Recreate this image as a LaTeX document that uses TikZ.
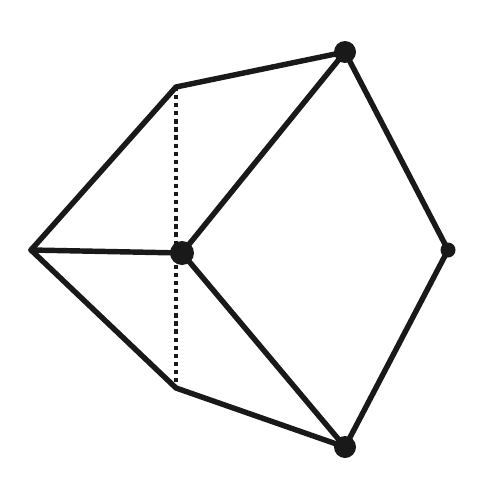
\documentclass[tikz,border=0pt]{standalone}
\begin{document}
\begin{tikzpicture}[x=0.02cm,y=-0.02cm,line join=round,line cap=round]
\useasboundingbox (0,0) rectangle (490,490);
\tikzset{edge/.style={line width=3.1pt,black!90},
         dotline/.style={line width=2.4pt,black!90,line cap=butt,dash pattern=on 2.4pt off 2.2pt}}
% vertices
\coordinate (L) at (31,250);
\coordinate (TL) at (176,87);
\coordinate (BL) at (176,388);
\coordinate (C) at (182,253);
\coordinate (T) at (345,52);
\coordinate (R) at (448,250);
\coordinate (B) at (345,447);
\draw[dotline] (TL)--(BL);
\draw[edge] (T)--(TL)--(L)--(BL)--(B);
\draw[edge] (L)--(C);
\draw[edge] (T)--(C)--(B);
\draw[edge] (T)--(R)--(B);
\fill[black!90] (C) circle (12);
\fill[black!90] (T) circle (11);
\fill[black!90] (B) circle (11);
\fill[black!90] (R) circle (7.5);
\end{tikzpicture}
\end{document}
